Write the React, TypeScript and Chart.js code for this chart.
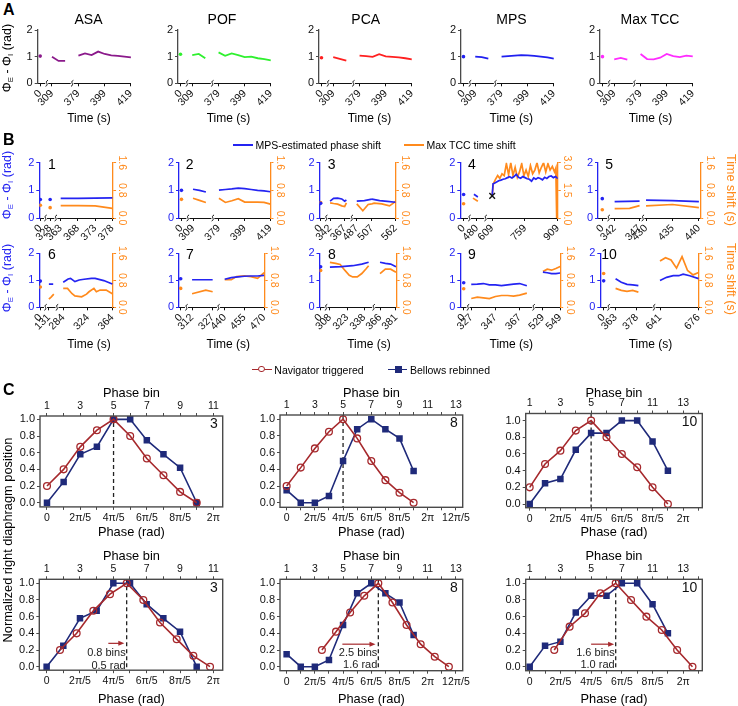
import React, { useEffect, useRef } from "react";
import { Chart, registerables } from "chart.js";

Chart.register(...registerables);

const FONT = "'Liberation Sans', Arial, Helvetica, sans-serif";
const BLUE = "#2424f2";
const ORANGE = "#ff8a1c";
const RED = "#a6292d";
const NAVY = "#1f2a7a";
const GREY = "#4a4a4a";
const BLACK = "#111111";

/* ================= Panel A ================= */
const aTimes = [[0], [309, 314, 319], [379, 384, 389, 394, 399, 404, 409, 414, 419]];
const aTicks = [[0], [309], [379, 399, 419]];
const asaValues = [[1.02], [1.0, 0.84, 0.84], [1.04, 1.12, 1.06, 1.19, 1.1, 1.05, 1.03, 1.0, 0.97]];
const pofValues = [[1.09], [1.06, 1.1, 0.94], [1.16, 1.03, 1.12, 1.06, 0.98, 1.0, 0.94, 0.91, 0.86]];
const pcaValues = [[0.96], [0.98, 0.92, 0.85], [1.04, 1.02, 0.99, 1.09, 1.01, 0.99, 0.97, 0.94, 0.9]];
const mpsValues = [[1.0], [1.0, 0.98, 0.93], [1.0, 1.02, 1.04, 1.06, 1.05, 1.03, 1.0, 0.97, 0.93]];
const tccValues = [[1.0], [0.9, 0.95, 0.89], [1.1, 0.91, 0.9, 0.96, 1.1, 1.02, 0.98, 1.04, 1.01]];
const aNames = ["ASA", "POF", "PCA", "MPS", "Max TCC"];
const aColors = ["#8b1a8b", "#2ff02f", "#ff2020", "#2020f0", "#ff2cff"];
const aYTicks = [0, 1, 2];

/* ================= Panel B ================= */
const b1Ticks = [[0], [328], [363, 368, 373, 378]];
const b1BlueT = [[0], [328], [363, 368, 373, 378]];
const b1BlueV = [[0.67], [0.67], [0.71, 0.71, 0.72, 0.73]];
const b1OrangeT = [[0], [328], [363, 368, 373, 378]];
const b1OrangeV = [[0.37], [0.3], [0.36, 0.36, 0.35, 0.28]];

const b2Ticks = [[0], [309], [379, 399, 419]];
const b2BlueT = [[0], [309, 314, 319], [379, 384, 389, 394, 399, 404, 409, 414, 419]];
const b2BlueV = [[1.0], [1.04, 1.0, 0.94], [1.01, 1.03, 1.05, 1.08, 1.06, 1.03, 1.0, 0.98, 0.95]];
const b2OrangeT = [[0], [309, 314, 319], [379, 384, 389, 394, 399, 404, 409, 414, 419]];
const b2OrangeV = [[0.54], [0.57, 0.51, 0.45], [0.57, 0.45, 0.5, 0.56, 0.46, 0.46, 0.46, 0.45, 0.4]];

const b3Ticks = [[0], [342, 367], [487], [507, 562]];
const b3BlueT = [[0], [342, 348, 355, 362, 367, 370], [487, 497, 507], [507, 525, 543, 562]];
const b3BlueV = [[0.53], [0.61, 0.71, 0.72, 0.69, 0.61, 0.65], [0.61, 0.63, 0.68], [0.68, 0.63, 0.6, 0.57]];
const b3OrangeT = [[0], [342, 348, 355, 362, 367, 370], [487, 495, 502, 507], [507, 512, 530, 548, 557, 562]];
const b3OrangeV = [[0.45], [0.44, 0.42, 0.4, 0.35, 0.33, 0.44], [0.41, 0.21, 0.39, 0.41], [0.41, 0.43, 0.41, 0.35, 0.43, 0.48]];

const b4Ticks = [[0], [480], [609, 759, 909]];
const b4BlueT = [[0], [477, 481], [609, 613, 619, 629, 639, 649, 659, 669, 679, 689, 699, 709, 719, 729, 739, 749, 759, 769, 779, 789, 799, 809, 819, 829, 839, 849, 859, 869, 879, 889, 899, 909]];
const b4BlueV = [[0.85], [0.86, 0.76], [0.8, 1.24, 1.26, 1.3, 1.35, 1.37, 1.4, 1.42, 1.46, 1.49, 1.45, 1.5, 1.58, 1.47, 1.44, 1.5, 1.46, 1.42, 1.4, 1.33, 1.45, 1.4, 1.46, 1.43, 1.38, 1.47, 1.43, 1.5, 1.52, 1.46, 1.5, 1.42]];
const b4OrangeT = [[0], [476, 481], [609, 614, 624, 634, 644, 654, 664, 674, 684, 694, 704, 714, 724, 734, 744, 754, 764, 774, 784, 794, 804, 814, 824, 834, 844, 854, 864, 874, 884, 894, 900, 904, 909]];
const b4OrangeV = [[0.77], [1.08, 0.91], [1.2, 1.85, 2.1, 2.3, 2.15, 2.4, 2.3, 2.95, 2.35, 3.0, 2.3, 2.75, 2.2, 2.5, 2.95, 2.3, 2.6, 2.25, 2.85, 2.4, 2.6, 3.0, 2.45, 2.75, 3.0, 2.5, 2.95, 2.6, 2.8, 2.5, 2.7, 0.0, 3.0]];
const b4CrossT = [609];
const b4CrossV = [0.8];

const b5Ticks = [[0], [342, 347], [430, 435, 440]];
const b5BlueT = [[0], [342, 347], [430, 435, 440]];
const b5BlueV = [[0.7], [0.59, 0.61], [0.65, 0.63, 0.59]];
const b5OrangeT = [[0], [342, 345, 347], [430, 435, 440]];
const b5OrangeV = [[0.24], [0.27, 0.28, 0.36], [0.35, 0.39, 0.3]];

const b6Ticks = [[0], [131], [284, 324, 364]];
const b6BlueT = [[0], [131, 138], [284, 292, 296, 303, 310, 318, 330, 336, 350, 364]];
const b6BlueV = [[0.97], [0.86, 0.86], [0.93, 1.05, 1.07, 0.95, 1.01, 1.04, 1.07, 1.07, 0.99, 0.86]];
const b6OrangeT = [[0], [131, 135, 139], [284, 291, 298, 303, 314, 322, 326, 334, 338, 344, 354, 364]];
const b6OrangeV = [[0.6], [0.24, 0.31, 0.39], [0.56, 0.56, 0.41, 0.34, 0.31, 0.39, 0.46, 0.56, 0.46, 0.51, 0.51, 0.4]];

const b7Ticks = [[0], [312, 327], [440, 455, 470]];
const b7BlueT = [[0], [312, 327], [440, 445, 450, 455, 460, 465, 470]];
const b7BlueV = [[1.06], [1.02, 1.02], [1.04, 1.1, 1.13, 1.15, 1.16, 1.16, 1.18]];
const b7OrangeT = [[0], [312, 322, 327], [440, 445, 449, 455, 460, 465, 470]];
const b7OrangeV = [[0.56], [0.4, 0.51, 0.46], [0.82, 0.82, 0.91, 0.93, 0.91, 0.86, 1.03]];

const b8Ticks = [[0], [308, 323, 338], [366, 381]];
const b8BlueT = [[0], [308, 318, 328, 336, 342], [366, 371, 376, 381]];
const b8BlueV = [[1.5], [1.49, 1.51, 1.54, 1.6, 1.67], [1.67, 1.63, 1.6, 1.5]];
const b8OrangeT = [[0], [308, 313, 317, 321, 325, 328, 332, 336, 340, 342], [366, 371, 376, 381]];
const b8OrangeV = [[1.09], [1.33, 1.3, 1.27, 1.1, 0.95, 0.9, 0.9, 1.0, 1.15, 1.23], [1.0, 1.13, 1.13, 1.04]];

const b9Ticks = [[0], [327, 347, 367], [529, 549]];
const b9BlueT = [[0], [327, 332, 337, 342, 347, 352, 357, 362, 367, 373], [529, 534, 539, 544, 549]];
const b9BlueV = [[0.91], [0.85, 0.86, 0.88, 0.83, 0.83, 0.8, 0.83, 0.86, 0.88, 0.8], [1.3, 1.28, 1.25, 1.25, 1.27]];
const b9OrangeT = [[0], [327, 332, 337, 342, 347, 352, 357, 362, 367, 373], [529, 534, 539, 544, 549]];
const b9OrangeV = [[0.55], [0.26, 0.3, 0.28, 0.26, 0.32, 0.35, 0.35, 0.33, 0.36, 0.42], [1.06, 1.13, 1.1, 1.15, 1.21]];

const b10Ticks = [[0], [363, 378], [641, 676]];
const b10BlueT = [[0], [363, 367, 371, 375, 379], [641, 647, 653, 658, 662, 668, 676]];
const b10BlueV = [[0.98], [1.06, 0.93, 0.85, 0.83, 0.8], [0.99, 1.11, 1.17, 1.17, 1.23, 1.17, 1.06]];
const b10OrangeT = [[0], [363, 367, 371, 375, 379], [641, 646, 651, 656, 661, 666, 671, 676]];
const b10OrangeV = [[1.0], [0.56, 0.5, 0.47, 0.5, 0.45], [1.37, 1.47, 1.4, 1.16, 1.5, 1.09, 0.96, 1.03]];

const bRightTicks16 = [0, 0.8, 1.6];
const bRightLabels16 = ["0.0", "0.8", "1.6"];
const bRightTicks30 = [0, 1.5, 3.0];
const bRightLabels30 = ["0.0", "1.5", "3.0"];

/* ================= Panel C ================= */
const cBins = [1, 2, 3, 4, 5, 6, 7, 8, 9, 10];
const c3Nav = [0.2, 0.4, 0.67, 0.87, 1.0, 0.8, 0.53, 0.33, 0.13, 0.0];
const c3Bel = [0.0, 0.25, 0.58, 0.67, 1.0, 1.0, 0.75, 0.58, 0.42, 0.0];
const c8Nav = [0.2, 0.42, 0.65, 0.85, 1.0, 0.77, 0.5, 0.27, 0.12, 0.0];
const c8Bel = [0.15, 0.0, 0.0, 0.08, 0.5, 0.88, 1.0, 0.88, 0.77, 0.38];
const c10Nav = [0.2, 0.48, 0.64, 0.88, 1.0, 0.8, 0.6, 0.44, 0.2, 0.0];
const c10Bel = [0.0, 0.25, 0.3, 0.65, 0.85, 0.85, 1.0, 1.0, 0.75, 0.4];
const c3ShiftBins = [1.8, 2.8, 3.8, 4.8, 5.8, 6.8, 7.8, 8.8, 9.8, 10.8];
const c8ShiftBins = [3.5, 4.5, 5.5, 6.5, 7.5, 8.5, 9.5, 10.5, 11.5, 12.5];
const c10ShiftBins = [2.6, 3.6, 4.6, 5.6, 6.6, 7.6, 8.6, 9.6, 10.6, 11.6];
const cYTicks = [0, 0.2, 0.4, 0.6, 0.8, 1.0];
const cLabelBins = [1, 3, 5, 7, 9, 11, 13];
const cTop11 = ["1", "3", "5", "7", "9", "11"];
const cTop13 = ["1", "3", "5", "7", "9", "11", "13"];
const cTop10 = ["1", "3", "5", "7", "11", "13"];
const cPhase11 = ["0", "2π/5", "4π/5", "6π/5", "8π/5", "2π"];
const cPhase13 = ["0", "2π/5", "4π/5", "6π/5", "8π/5", "2π", "12π/5"];

/* ================= chart builders ================= */
type Seg = { min: number; max: number; w: number; join?: boolean };

function tickFont(size = 10.5) {
  return { family: FONT, size };
}

function makeBroken(canvas: HTMLCanvasElement, m: number[], s: any) {
  const [ml, mt, mr, mb] = m;
  const scales: any = {};
  s.segs.forEach((seg: Seg, i: number) => {
    const tv = s.ticks[i];
    scales["x" + i] = {
      type: "linear",
      axis: "x",
      position: "bottom",
      stack: "xs",
      stackWeight: seg.w,
      min: seg.min,
      max: seg.max,
      offset: false,
      afterBuildTicks: (sc: any) => {
        sc.ticks = tv.map((v: number) => ({ value: v }));
      },
      afterFit: (sc: any) => {
        sc.height = mb;
      },
      grid: { display: true, drawOnChartArea: false, drawTicks: true, tickLength: 3, color: BLACK },
      border: { display: true, color: BLACK, width: 1 },
      ticks: {
        autoSkip: false,
        minRotation: 45,
        maxRotation: 45,
        padding: 1,
        color: BLACK,
        font: tickFont(10.5),
        callback: (v: number) => String(v),
      },
    };
  });
  scales.y = {
    type: "linear",
    position: "left",
    min: 0,
    max: 2,
    afterBuildTicks: (sc: any) => {
      sc.ticks = aYTicks.map((v) => ({ value: v }));
    },
    afterFit: (sc: any) => {
      sc.width = ml;
    },
    grid: { display: true, drawOnChartArea: false, drawTicks: true, tickLength: 3, color: s.yColor },
    border: { display: true, color: s.yColor, width: 1.3 },
    ticks: { color: s.yLabelColor, font: tickFont(11), padding: 2, callback: (v: number) => String(v) },
  };
  if (s.right) {
    scales.yR = {
      type: "linear",
      position: "right",
      min: 0,
      max: s.right.max,
      afterBuildTicks: (sc: any) => {
        sc.ticks = s.right.ticks.map((v: number) => ({ value: v }));
      },
      afterFit: (sc: any) => {
        sc.width = mr;
      },
      grid: { display: true, drawOnChartArea: false, drawTicks: true, tickLength: 3, color: ORANGE },
      border: { display: true, color: ORANGE, width: 1.3 },
      ticks: { display: false },
    };
  }
  const datasets: any[] = [];
  s.lines.forEach((ln: any) => {
    ln.t.forEach((ts: number[], i: number) => {
      if (!ts.length) return;
      datasets.push({
        data: ts.map((x, j) => ({ x, y: ln.v[i][j] })),
        xAxisID: "x" + i,
        yAxisID: ln.axis,
        borderColor: ln.color,
        backgroundColor: ln.color,
        borderWidth: ln.width || 1.6,
        pointRadius: ts.length === 1 ? 1.8 : 0,
        pointBorderWidth: 0,
        pointHoverRadius: 0,
        tension: 0,
      });
    });
  });
  if (s.cross) {
    datasets.unshift({
      data: s.cross.t.map((x: number, j: number) => ({ x, y: s.cross.v[j] })),
      xAxisID: "x" + s.cross.seg,
      yAxisID: "y",
      showLine: false,
      pointStyle: "crossRot",
      pointRadius: 4,
      borderColor: BLACK,
      pointBorderColor: BLACK,
      pointBorderWidth: 1.4,
    });
  }
  const breakPlugin = {
    id: "breaks",
    afterDraw(chart: any) {
      const ctx = chart.ctx;
      const y = chart.chartArea.bottom;
      for (let i = 0; i < s.segs.length - 1; i++) {
        if (s.segs[i + 1].join) continue;
        const x = chart.scales["x" + i].right;
        ctx.save();
        ctx.fillStyle = "#ffffff";
        ctx.fillRect(x - 1.5, y - 1, 3, 2.2);
        ctx.strokeStyle = BLACK;
        ctx.lineWidth = 1;
        ctx.beginPath();
        ctx.moveTo(x - 1.2, y + 3);
        ctx.bezierCurveTo(x + 3, y + 1.2, x - 3, y - 1.2, x + 1.2, y - 3);
        ctx.stroke();
        ctx.restore();
      }
    },
  };
  const rightLabelPlugin = {
    id: "rightLabels",
    afterDraw(chart: any) {
      if (!s.right) return;
      const sc = chart.scales.yR;
      const ctx = chart.ctx;
      ctx.save();
      ctx.fillStyle = ORANGE;
      ctx.font = `10.5px ${FONT}`;
      ctx.textAlign = "center";
      ctx.textBaseline = "bottom";
      s.right.ticks.forEach((v: number, i: number) => {
        const py = sc.getPixelForValue(v);
        ctx.save();
        ctx.translate(sc.left + 4, py);
        ctx.rotate(Math.PI / 2);
        ctx.fillText(s.right.labels[i], 0, 0);
        ctx.restore();
      });
      ctx.restore();
    },
  };
  return new Chart(canvas, {
    type: "line",
    data: { datasets },
    options: {
      responsive: false,
      animation: false,
      devicePixelRatio: 1,
      events: [],
      layout: { padding: { left: 0, top: mt, right: s.right ? 0 : mr, bottom: 0 }, autoPadding: false },
      plugins: { legend: { display: false }, tooltip: { enabled: false }, title: { display: false } },
      scales,
    } as any,
    plugins: [breakPlugin, rightLabelPlugin],
  } as any);
}

function makePhase(canvas: HTMLCanvasElement, m: number[], s: any) {
  const [ml, mt, mr, mb] = m;
  const intTicks = (sc: any) => {
    const a: any[] = [];
    for (let v = Math.ceil(s.xMin); v <= Math.floor(s.xMax); v++) a.push({ value: v });
    sc.ticks = a;
  };
  const labeler = (arr: string[]) => (v: number) => {
    const i = cLabelBins.indexOf(v);
    return i >= 0 && i < arr.length ? arr[i] : "";
  };
  const gridOpt = { display: true, drawOnChartArea: false, drawTicks: true, tickLength: 3, color: GREY };
  const datasets = [
    {
      data: s.navX.map((x: number, i: number) => ({ x, y: s.navY[i] })),
      xAxisID: "x",
      yAxisID: "y",
      borderColor: RED,
      backgroundColor: "rgba(255,255,255,0)",
      pointBackgroundColor: "rgba(255,255,255,0)",
      pointBorderColor: RED,
      pointStyle: "circle",
      pointRadius: 3.4,
      pointBorderWidth: 1.3,
      borderWidth: 1.6,
      tension: 0,
    },
    {
      data: s.belX.map((x: number, i: number) => ({ x, y: s.belY[i] })),
      xAxisID: "x",
      yAxisID: "y",
      borderColor: NAVY,
      backgroundColor: NAVY,
      pointBackgroundColor: NAVY,
      pointBorderColor: NAVY,
      pointStyle: "rect",
      pointRadius: 4.6,
      pointBorderWidth: 0,
      borderWidth: 1.6,
      tension: 0,
    },
  ];
  const decor = {
    id: "decor",
    beforeDatasetsDraw(chart: any) {
      const ctx = chart.ctx;
      const a = chart.chartArea;
      const x = chart.scales.x.getPixelForValue(s.dash);
      ctx.save();
      ctx.strokeStyle = "#222222";
      ctx.lineWidth = 1.3;
      ctx.setLineDash([4, 3]);
      ctx.beginPath();
      ctx.moveTo(x, a.top);
      ctx.lineTo(x, a.bottom);
      ctx.stroke();
      ctx.restore();
      if (s.arrow) {
        const xs = chart.scales.x;
        const ys = chart.scales.y;
        const x0 = xs.getPixelForValue(s.arrow.from);
        const x1 = xs.getPixelForValue(s.arrow.to);
        const y = ys.getPixelForValue(s.arrow.y);
        ctx.save();
        ctx.strokeStyle = RED;
        ctx.fillStyle = RED;
        ctx.lineWidth = 1.2;
        ctx.beginPath();
        ctx.moveTo(x0, y);
        ctx.lineTo(x1 - 4, y);
        ctx.stroke();
        ctx.beginPath();
        ctx.moveTo(x1, y);
        ctx.lineTo(x1 - 6, y - 2.5);
        ctx.lineTo(x1 - 6, y + 2.5);
        ctx.closePath();
        ctx.fill();
        ctx.fillStyle = "#222222";
        ctx.font = `11px ${FONT}`;
        ctx.textAlign = "right";
        ctx.textBaseline = "middle";
        ctx.fillText(s.arrow.t1, x - 1, ys.getPixelForValue(s.arrow.ty1));
        ctx.fillText(s.arrow.t2, x - 1, ys.getPixelForValue(s.arrow.ty2));
        ctx.restore();
      }
    },
    afterDraw(chart: any) {
      const ctx = chart.ctx;
      const a = chart.chartArea;
      ctx.save();
      ctx.strokeStyle = GREY;
      ctx.lineWidth = 1.4;
      ctx.strokeRect(a.left, a.top, a.right - a.left, a.bottom - a.top);
      ctx.fillStyle = BLACK;
      ctx.font = `14px ${FONT}`;
      ctx.textAlign = "right";
      ctx.textBaseline = "middle";
      ctx.fillText(s.num, a.right - 5, a.top + 8.5);
      ctx.restore();
    },
  };
  return new Chart(canvas, {
    type: "line",
    data: { datasets },
    options: {
      responsive: false,
      animation: false,
      devicePixelRatio: 1,
      events: [],
      layout: { padding: { left: 0, top: 0, right: mr, bottom: 0 }, autoPadding: false },
      plugins: { legend: { display: false }, tooltip: { enabled: false } },
      scales: {
        x: {
          type: "linear",
          position: "bottom",
          min: s.xMin,
          max: s.xMax,
          afterBuildTicks: intTicks,
          afterFit: (sc: any) => {
            sc.height = mb;
          },
          grid: gridOpt,
          border: { display: false },
          ticks: { autoSkip: false, minRotation: 0, maxRotation: 0, padding: 2, color: BLACK, font: tickFont(10.5), callback: labeler(s.botLabels) },
        },
        xTop: {
          type: "linear",
          axis: "x",
          position: "top",
          min: s.xMin,
          max: s.xMax,
          afterBuildTicks: intTicks,
          afterFit: (sc: any) => {
            sc.height = mt;
          },
          grid: gridOpt,
          border: { display: false },
          ticks: { autoSkip: false, minRotation: 0, maxRotation: 0, padding: 1, color: BLACK, font: tickFont(10.5), callback: labeler(s.topLabels) },
        },
        y: {
          type: "linear",
          position: "left",
          min: s.yMin,
          max: s.yMax,
          afterBuildTicks: (sc: any) => {
            sc.ticks = cYTicks.map((v) => ({ value: v }));
          },
          afterFit: (sc: any) => {
            sc.width = ml;
          },
          grid: gridOpt,
          border: { display: false },
          ticks: { color: BLACK, font: tickFont(11), padding: 2, callback: (v: number) => v.toFixed(1) },
        },
      },
    } as any,
    plugins: [decor],
  } as any);
}

/* ================= specs ================= */
const aSegs: Seg[] = [
  { min: -1.9, max: 5.0, w: 9.7 },
  { min: 305.0, max: 324.4, w: 27.3 },
  { min: 374.25, max: 419, w: 63 },
];
const aLefts = [37.7, 178, 319, 461, 600];
const aValues = [asaValues, pofValues, pcaValues, mpsValues, tccValues];

const bSpecs = [
  { area: [39.3, 162.7, 139, 218], segs: [{ min: -1.4, max: 7, w: 8.4 }, { min: 326.65, max: 329.65, w: 14 }, { min: 361.59, max: 378.2, w: 77.6 }], ticks: b1Ticks, bt: b1BlueT, bv: b1BlueV, ot: b1OrangeT, ov: b1OrangeV, big: false },
  { area: [179, 162.7, 278.3, 218], segs: aSegs, ticks: b2Ticks, bt: b2BlueT, bv: b2BlueV, ot: b2OrangeT, ov: b2OrangeV, big: false },
  { area: [319.5, 162.7, 419.2, 218], segs: [{ min: -1.5, max: 7.3, w: 8.8 }, { min: 335.4, max: 379.3, w: 33.4 }, { min: 480.5, max: 507, w: 26.3 }, { min: 507, max: 562.9, w: 31.2, join: true }], ticks: b3Ticks, bt: b3BlueT, bv: b3BlueV, ot: b3OrangeT, ov: b3OrangeV, big: false },
  { area: [460.3, 162.7, 560.3, 218], segs: [{ min: -3.4, max: 6, w: 9.4 }, { min: 472.4, max: 489, w: 16.6 }, { min: 579.1, max: 909, w: 74 }], ticks: b4Ticks, bt: b4BlueT, bv: b4BlueV, ot: b4OrangeT, ov: b4OrangeV, big: true, cross: { seg: 2, t: b4CrossT, v: b4CrossV } },
  { area: [598, 162.7, 700.5, 218], segs: [{ min: -4.3, max: 6.4, w: 10.7 }, { min: 340.8, max: 347.66, w: 34.3 }, { min: 429.4, max: 440.25, w: 57.5 }], ticks: b5Ticks, bt: b5BlueT, bv: b5BlueV, ot: b5OrangeT, ov: b5OrangeV, big: false },
  { area: [39.3, 253.3, 139, 307.3], segs: [{ min: -1.4, max: 7, w: 8.4 }, { min: 125.5, max: 144.2, w: 15.6 }, { min: 273.9, max: 365.2, w: 76 }], ticks: b6Ticks, bt: b6BlueT, bv: b6BlueV, ot: b6OrangeT, ov: b6OrangeV, big: false },
  { area: [179, 253.3, 278.3, 307.3], segs: [{ min: -2, max: 6.7, w: 8.7 }, { min: 307.9, max: 331.2, w: 37.3 }, { min: 435.2, max: 470.4, w: 54 }], ticks: b7Ticks, bt: b7BlueT, bv: b7BlueV, ot: b7OrangeT, ov: b7OrangeV, big: false },
  { area: [319.5, 253.3, 419.2, 307.3], segs: [{ min: -1.5, max: 7, w: 8.5 }, { min: 304.6, max: 346.4, w: 61.7 }, { min: 360, max: 381.6, w: 29.8 }], ticks: b8Ticks, bt: b8BlueT, bv: b8BlueV, ot: b8OrangeT, ov: b8OrangeV, big: false },
  { area: [460.3, 253.3, 560.3, 307.3], segs: [{ min: -3.4, max: 4.3, w: 7.7 }, { min: 324.3, max: 378.6, w: 65.7 }, { min: 518.25, max: 549, w: 26.6 }], ticks: b9Ticks, bt: b9BlueT, bv: b9BlueV, ot: b9OrangeT, ov: b9OrangeV, big: false },
  { area: [600.3, 253.3, 700.3, 307.3], segs: [{ min: -3.4, max: 5, w: 8.4 }, { min: 358.1, max: 390, w: 46 }, { min: 635.6, max: 676.5, w: 45.6 }], ticks: b10Ticks, bt: b10BlueT, bv: b10BlueV, ot: b10OrangeT, ov: b10OrangeV, big: false },
];

const cSpecs = [
  { area: [40, 416, 222.7, 506.9], xMin: 0.58, xMax: 11.56, yMin: -0.05, yMax: 1.04, navX: cBins, navY: c3Nav, belX: cBins, belY: c3Bel, topLabels: cTop11, botLabels: cPhase11, dash: 5, num: "3" },
  { area: [280, 415, 462.7, 507.3], xMin: 0.53, xMax: 13.48, yMin: -0.055, yMax: 1.05, navX: cBins, navY: c8Nav, belX: cBins, belY: c8Bel, topLabels: cTop13, botLabels: cPhase13, dash: 5, num: "8" },
  { area: [525.7, 413.5, 702.3, 507.7], xMin: 0.74, xMax: 12.24, yMin: -0.044, yMax: 1.085, navX: cBins, navY: c10Nav, belX: cBins, belY: c10Bel, topLabels: cTop10, botLabels: cPhase11, dash: 5, num: "10" },
  { area: [39.3, 579.3, 222.7, 670.2], xMin: 0.56, xMax: 11.56, yMin: -0.042, yMax: 1.048, navX: c3ShiftBins, navY: c3Nav, belX: cBins, belY: c3Bel, topLabels: cTop11, botLabels: cPhase11, dash: 5.8, num: "3", arrow: { from: 4.7, to: 5.66, y: 0.28, t1: "0.8 bins", t2: "0.5 rad", ty1: 0.16, ty2: 0.01 } },
  { area: [280, 579.3, 462.7, 670.7], xMin: 0.53, xMax: 13.48, yMin: -0.048, yMax: 1.048, navX: c8ShiftBins, navY: c8Nav, belX: cBins, belY: c8Bel, topLabels: cTop13, botLabels: cPhase13, dash: 7.5, num: "8", arrow: { from: 4.95, to: 7.3, y: 0.27, t1: "2.5 bins", t2: "1.6 rad", ty1: 0.16, ty2: 0.02 } },
  { area: [525.7, 579.3, 702.3, 670.7], xMin: 0.74, xMax: 12.24, yMin: -0.048, yMax: 1.048, navX: c10ShiftBins, navY: c10Nav, belX: cBins, belY: c10Bel, topLabels: cTop10, botLabels: cPhase11, dash: 6.6, num: "10", arrow: { from: 5.0, to: 6.5, y: 0.27, t1: "1.6 bins", t2: "1.0 rad", ty1: 0.16, ty2: 0.02 } },
];

/* ================= components ================= */
function ChartBox({ area, margins, build }: { area: number[]; margins: number[]; build: (c: HTMLCanvasElement, m: number[]) => Chart }) {
  const ref = useRef<HTMLCanvasElement>(null);
  const [L, T, R, B] = area;
  const [ML, MT, MR, MB] = margins;
  const cl = Math.floor(L - ML);
  const ct = Math.floor(T - MT);
  const cr = Math.ceil(R + MR);
  const cb = Math.ceil(B + MB);
  const m = [L - cl, T - ct, cr - R, cb - B];
  useEffect(() => {
    if (!ref.current) return;
    const chart = build(ref.current, m);
    return () => chart.destroy();
  }, []);
  return (
    <canvas
      ref={ref}
      width={cr - cl}
      height={cb - ct}
      style={{ position: "absolute", left: cl, top: ct, width: cr - cl, height: cb - ct }}
    />
  );
}

function Txt({ x, y, children, size = 12, color = "#000", bold = false, rot = 0, align = "center" }: any) {
  const tx = align === "center" ? "-50%" : align === "left" ? "0%" : "-100%";
  return (
    <div
      style={{
        position: "absolute",
        left: x,
        top: y,
        transform: `translate(${tx}, -50%) rotate(${rot}deg)`,
        fontFamily: FONT,
        fontSize: size,
        fontWeight: bold ? "bold" : "normal",
        color,
        whiteSpace: "nowrap",
        lineHeight: 1.15,
      }}
    >
      {children}
    </div>
  );
}

function PhiLabel() {
  const sub = { fontSize: "0.62em", verticalAlign: "-0.35em" } as any;
  return (
    <span>
      Φ<span style={sub}>E</span> - Φ<span style={sub}>I</span> (rad)
    </span>
  );
}

export default function App() {
  const aMargins = [32, 9, 12, 34];
  const bMargins = [30, 10, 18, 34];
  const cMargins = [36, 26, 10, 24];
  const aTitleX = [88.5, 222, 365.7, 511.5, 650];
  const aTimeX = [89, 228.5, 369.5, 511.3, 650.5];
  const bNumX = [48, 185.7, 327.7, 468, 605.3, 48, 186, 328, 468, 601.3];
  const bTimeX = [89, 228.3, 369, 511.3, 650.5];
  const cCenters = [131.4, 371.4, 614];
  return (
    <div style={{ position: "absolute", left: 0, top: 0, width: 738, height: 706, background: "#fff", overflow: "hidden", fontFamily: FONT }}>
      {aLefts.map((left, k) => (
        <ChartBox
          key={"a" + k}
          area={[left, 30, left + 100, 83.3]}
          margins={aMargins}
          build={(c, m) =>
            makeBroken(c, m, {
              segs: aSegs,
              ticks: aTicks,
              yColor: GREY,
              yLabelColor: BLACK,
              lines: [{ t: aTimes, v: aValues[k], color: aColors[k], axis: "y", width: 1.8 }],
            })
          }
        />
      ))}
      {bSpecs.map((s, k) => (
        <ChartBox
          key={"b" + k}
          area={s.area}
          margins={bMargins}
          build={(c, m) =>
            makeBroken(c, m, {
              segs: s.segs,
              ticks: s.ticks,
              yColor: BLUE,
              yLabelColor: BLUE,
              right: s.big
                ? { max: 3, ticks: bRightTicks30, labels: bRightLabels30 }
                : { max: 1.6, ticks: bRightTicks16, labels: bRightLabels16 },
              cross: (s as any).cross,
              lines: [
                { t: s.bt, v: s.bv, color: BLUE, axis: "y", width: 1.7 },
                { t: s.ot, v: s.ov, color: ORANGE, axis: "yR", width: 1.7 },
              ],
            })
          }
        />
      ))}
      {cSpecs.map((s, k) => (
        <ChartBox key={"c" + k} area={s.area} margins={cMargins} build={(c, m) => makePhase(c, m, s)} />
      ))}

      {/* Panel A texts */}
      <Txt x={3} y={10} size={16} bold align="left">A</Txt>
      {aNames.map((n, k) => (
        <Txt key={"at" + k} x={aTitleX[k]} y={18.5} size={14}>{n}</Txt>
      ))}
      {aTimeX.map((x, k) => (
        <Txt key={"atx" + k} x={x} y={119} size={12}>Time (s)</Txt>
      ))}
      <Txt x={8} y={58} size={12.5} rot={-90}><PhiLabel /></Txt>

      {/* Panel B texts */}
      <Txt x={3} y={140} size={16} bold align="left">B</Txt>
      <div style={{ position: "absolute", left: 233, top: 144, width: 20, height: 2, background: BLUE }} />
      <Txt x={255.5} y={145} size={10.5} align="left">MPS-estimated phase shift</Txt>
      <div style={{ position: "absolute", left: 404, top: 144, width: 20, height: 2, background: ORANGE }} />
      <Txt x={426.5} y={145} size={10.5} align="left">Max TCC time shift</Txt>
      {bNumX.map((x, k) => (
        <Txt key={"bn" + k} x={x} y={k < 5 ? 164 : 253.5} size={14} align="left">{String(k + 1)}</Txt>
      ))}
      {bTimeX.map((x, k) => (
        <Txt key={"btx" + k} x={x} y={344.5} size={12}>Time (s)</Txt>
      ))}
      <Txt x={8} y={185} size={12.5} color={BLUE} rot={-90}><PhiLabel /></Txt>
      <Txt x={8} y={278} size={12.5} color={BLUE} rot={-90}><PhiLabel /></Txt>
      <Txt x={731} y={190} size={12.5} color={ORANGE} rot={90}>Time shift (s)</Txt>
      <Txt x={731} y={279} size={12.5} color={ORANGE} rot={90}>Time shift (s)</Txt>

      {/* Panel C texts */}
      <Txt x={3} y={390} size={16} bold align="left">C</Txt>
      <div style={{ position: "absolute", left: 251.7, top: 368.5, width: 20, height: 1.6, background: RED }} />
      <div style={{ position: "absolute", left: 258.2, top: 366, width: 4.4, height: 4.4, border: `1.3px solid ${RED}`, borderRadius: "50%", background: "#fff" }} />
      <Txt x={274.3} y={369.5} size={10.5} align="left">Navigator triggered</Txt>
      <div style={{ position: "absolute", left: 387.7, top: 368.5, width: 19, height: 1.6, background: NAVY }} />
      <div style={{ position: "absolute", left: 395, top: 366, width: 6.5, height: 6.5, background: NAVY }} />
      <Txt x={410} y={369.5} size={10.5} align="left">Bellows rebinned</Txt>
      {cCenters.map((x, k) => (
        <React.Fragment key={"cc" + k}>
          <Txt x={x} y={392.5} size={12.8}>Phase bin</Txt>
          <Txt x={x} y={531.5} size={12.8}>Phase (rad)</Txt>
          <Txt x={x} y={556} size={12.8}>Phase bin</Txt>
          <Txt x={x} y={699} size={12.8}>Phase (rad)</Txt>
        </React.Fragment>
      ))}
      <Txt x={7.5} y={540} size={12.8} rot={-90}>Normalized right diaphragm position</Txt>
    </div>
  );
}
